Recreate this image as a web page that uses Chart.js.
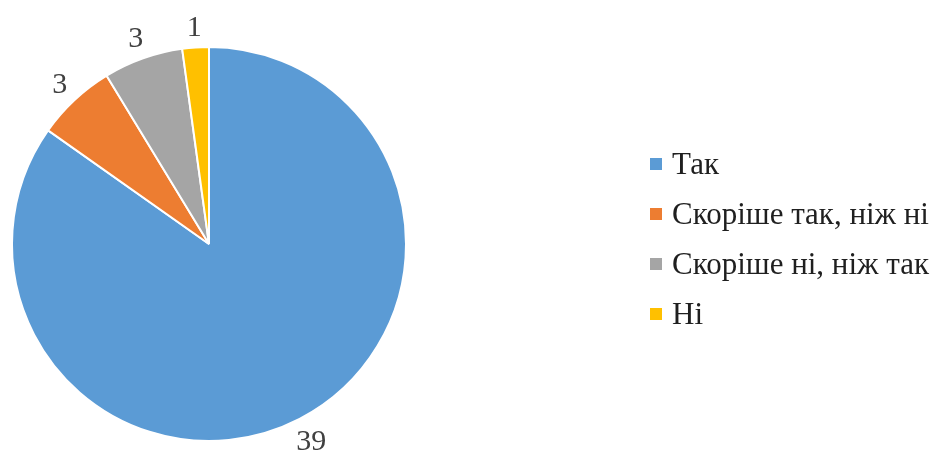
<!DOCTYPE html>
<html>
<head>
<meta charset="utf-8">
<script src="https://cdn.jsdelivr.net/npm/chart.js@4/dist/chart.umd.min.js"></script>
<style>
  body { margin: 0; background: #fff; }
  #wrap { position: relative; width: 934px; height: 457px; }
  #legend {
    position: absolute; left: 650px; top: 139px;
    font-family: "Liberation Serif", "Times New Roman", serif;
    font-size: 31px; color: #1f1f1f;
  }
  #legend .row { display: flex; align-items: center; height: 50px; white-space: nowrap; }
  #legend .box { width: 12px; height: 12px; margin-right: 10px; flex: none; }
</style>
</head>
<body>
<div id="wrap">
  <canvas id="pieChart"></canvas>
  <div id="legend"></div>
</div>
<script>
// ---- data ----
const labels = ["Так", "Скоріше так, ніж ні", "Скоріше ні, ніж так", "Ні"];
const values = [39, 3, 3, 1];
const colors = ["#5B9BD5", "#ED7D31", "#A5A5A5", "#FFC000"];

// value labels outside each slice
const outsideLabels = {
    id: "outsideLabels",
    afterDatasetsDraw(chart) {
        const ctx = chart.ctx;
        const meta = chart.getDatasetMeta(0);
        ctx.save();
        ctx.font = "30px 'Liberation Serif', serif";
        ctx.fillStyle = "#404040";
        ctx.textAlign = "center";
        ctx.textBaseline = "middle";
        meta.data.forEach((arc, i) => {
            const p = arc.getProps(["x", "y", "startAngle", "endAngle", "outerRadius"], true);
            const mid = (p.startAngle + p.endAngle) / 2;
            const txt = String(values[i]);
            const w = ctx.measureText(txt).width;
            const h = 21;
            const cx = Math.cos(mid), cy = Math.sin(mid);
            const d = p.outerRadius + 9 + Math.abs(cx) * w / 2 + Math.abs(cy) * h / 2;
            ctx.fillText(txt, p.x + cx * d, p.y + cy * d + 1);
        });
        ctx.restore();
    }
};

const chart = new Chart(document.getElementById("pieChart"), {
    type: "pie",
    data: {
        labels: labels,
        datasets: [{
            data: values,
            backgroundColor: colors,
            borderColor: "#ffffff",
            borderWidth: 2
        }]
    },
    options: {
        responsive: true,
        maintainAspectRatio: false,
        animation: false,
        layout: { padding: { left: 11, right: 527, top: 46, bottom: 15 } },
        plugins: {
            legend: { display: false },
            tooltip: { enabled: false }
        }
    },
    plugins: [outsideLabels]
});

// html legend built from the chart's own legend items
const legendEl = document.getElementById("legend");
chart.options.plugins.legend.labels.generateLabels(chart).forEach(item => {
    const row = document.createElement("div");
    row.className = "row";
    const box = document.createElement("span");
    box.className = "box";
    box.style.background = item.fillStyle;
    const txt = document.createElement("span");
    txt.textContent = item.text;
    row.appendChild(box);
    row.appendChild(txt);
    legendEl.appendChild(row);
});
</script>
</body>
</html>
